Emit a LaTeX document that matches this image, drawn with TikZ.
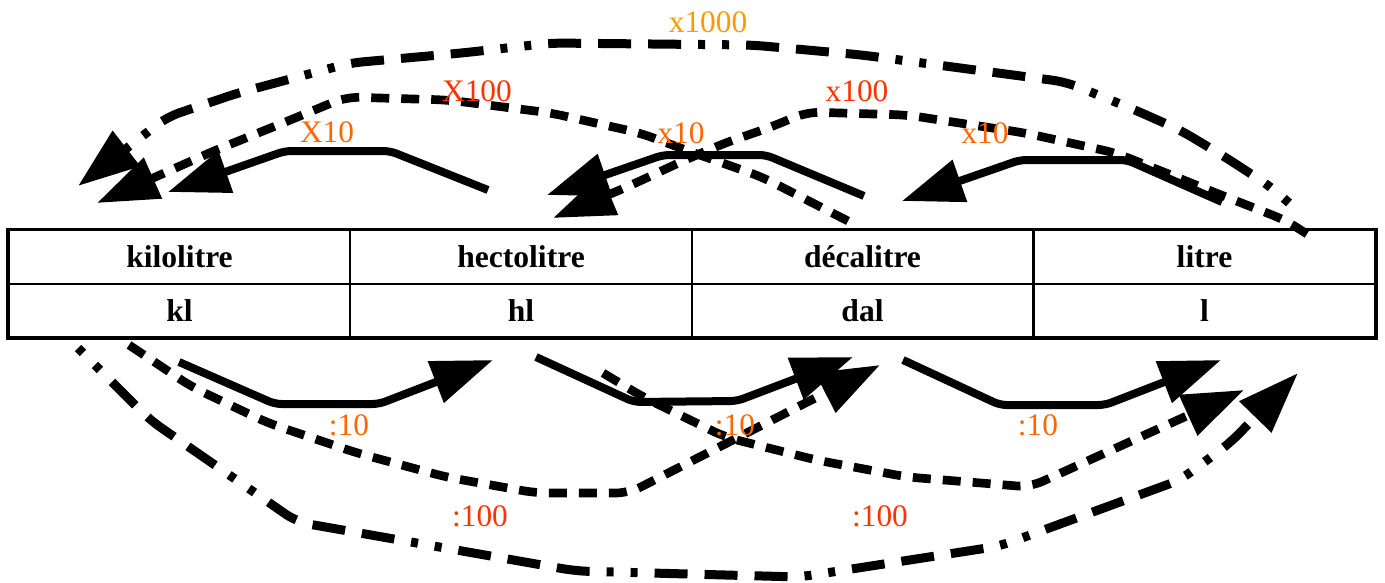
\documentclass[tikz,border=0pt]{standalone}
\usepackage{fontspec}
\setmainfont{Liberation Serif}
\usetikzlibrary{arrows.meta}
\definecolor{cA}{RGB}{255,153,0}
\definecolor{cB}{RGB}{255,51,0}
\definecolor{cC}{RGB}{255,102,0}
\tikzset{
 cell/.style={draw, line width=1.5pt, minimum width=256pt, minimum height=40.1pt, inner sep=0pt, font=\fontsize{23.7}{28}\selectfont\bfseries},
 lbl/.style={font=\fontsize{23.5}{28}\selectfont, inner sep=0pt},
 bigtip/.style={-{Triangle[length=46pt,width=32pt]}},
 solidarrow/.style={bigtip, line width=6pt, rounded corners=5pt},
 dasharrow/.style={bigtip, line width=6.5pt, dash pattern=on 13.5pt off 9pt, rounded corners=10pt},
 dotarrow/.style={bigtip, line width=6.75pt, dash pattern=on 5.25pt off 12.75pt on 5.25pt off 12.75pt on 24.75pt off 12.75pt on 24.75pt off 12.75pt on 24.75pt off 12.75pt, rounded corners=10pt},
}
\begin{document}
\begin{tikzpicture}[x=0.75pt,y=-0.75pt]
\useasboundingbox (0,0) rectangle (1385,582);
% table
\node[cell] (kilolitre) at (179.5,257) {kilolitre};
\node[cell] (hectolitre) at (521,257) {hectolitre};
\node[cell] (decalitre) at (862.5,257) {décalitre};
\node[cell] (litre) at (1204.5,257) {litre};
\node[cell] (kl) at (179.5,310.5) {kl};
\node[cell] (hl) at (521,310.5) {hl};
\node[cell] (dal) at (862.5,310.5) {dal};
\node[cell] (l) at (1204.5,310.5) {l};
\draw[line width=2.25pt] (kilolitre.north west) rectangle (l.south east);
% end points
\coordinate (a0) at (488,190);  \coordinate (a1) at (168,192);
\coordinate (b0) at (864,196);  \coordinate (b1) at (547,195);
\coordinate (c0) at (1222,202); \coordinate (c1) at (902,201);
\coordinate (h0) at (848,221);  \coordinate (h1) at (97,203);
\coordinate (i0) at (1307,234); \coordinate (i1) at (553,218);
\coordinate (m0) at (1289,203); \coordinate (m1) at (78,186);
\coordinate (d0) at (179,362);  \coordinate (d1) at (493,360);
\coordinate (e0) at (536,357);  \coordinate (e1) at (853,357);
\coordinate (f0) at (903,360);  \coordinate (f1) at (1221,360);
\coordinate (p0) at (129,345);  \coordinate (p1) at (880,365);
\coordinate (q0) at (603,373);  \coordinate (q1) at (1244,390);
\coordinate (r0) at (78,348);   \coordinate (r1) at (1298,373);
% top connectors
\draw[solidarrow] (a0) -- (390,151) -- (285,151) -- (a1);
\draw[solidarrow] (b0) -- (766,155) -- (663,155) -- (b1);
\draw[solidarrow] (c0) -- (1127,160) -- (1020,160) -- (c1);
\draw[dasharrow] (h0) -- (762,177) -- (694,153) -- (640,133) -- (551,113) -- (448,100) -- (346,97) -- (283,123) -- (216,150) -- (h1);
\draw[dasharrow] (i0) -- (1285,220) -- (1216,193) -- (1116,153) -- (1025,133) -- (907,115) -- (807,112) -- (771,127) -- (725,143) -- (685,160) -- (627,187) -- (i1);
\draw[dotarrow] (m0) -- (1271,187) -- (1225,157) -- (1180,130) -- (1135,110) -- (1066,82) -- (998,73) -- (862,55) -- (752,45) -- (551,43) -- (462,53) -- (350,63) -- (238,93) -- (167,117) -- (m1);
% bottom connectors
\draw[solidarrow] (d0) -- (275,404) -- (379,404) -- (d1);
\draw[solidarrow] (e0) -- (634,402) -- (737,401) -- (e1);
\draw[solidarrow] (f0) -- (1000,405) -- (1105,405) -- (f1);
\draw[dasharrow] (p0) -- (192,387) -- (268,423) -- (357,453) -- (446,477) -- (536,493) -- (629,493) -- (p1);
\draw[dasharrow] (q0) -- (643,397) -- (725,437) -- (816,460) -- (907,477) -- (1030,487) -- (q1);
\draw[dotarrow] (r0) -- (150,420) -- (297,522) -- (576,571) -- (800,577) -- (1000,546) -- (1180,480) -- (1230,443) -- (r1);
% labels
\node[lbl,text=cA] (t1) at (708,22) {x1000};
\node[lbl,text=cB] (t2) at (477,91) {X100};
\node[lbl,text=cC] (t3) at (327,132) {X10};
\node[lbl,text=cC] (t4) at (681,133) {x10};
\node[lbl,text=cB] (t5) at (857,91) {x100};
\node[lbl,text=cC] (t6) at (985,133) {x10};
\node[lbl,text=cC] (t7) at (349,425) {:10};
\node[lbl,text=cC] (t8) at (735,425) {:10};
\node[lbl,text=cC] (t9) at (1038,425) {:10};
\node[lbl,text=cB] (t10) at (480,516) {:100};
\node[lbl,text=cB] (t11) at (880,516) {:100};
\end{tikzpicture}
\end{document}
